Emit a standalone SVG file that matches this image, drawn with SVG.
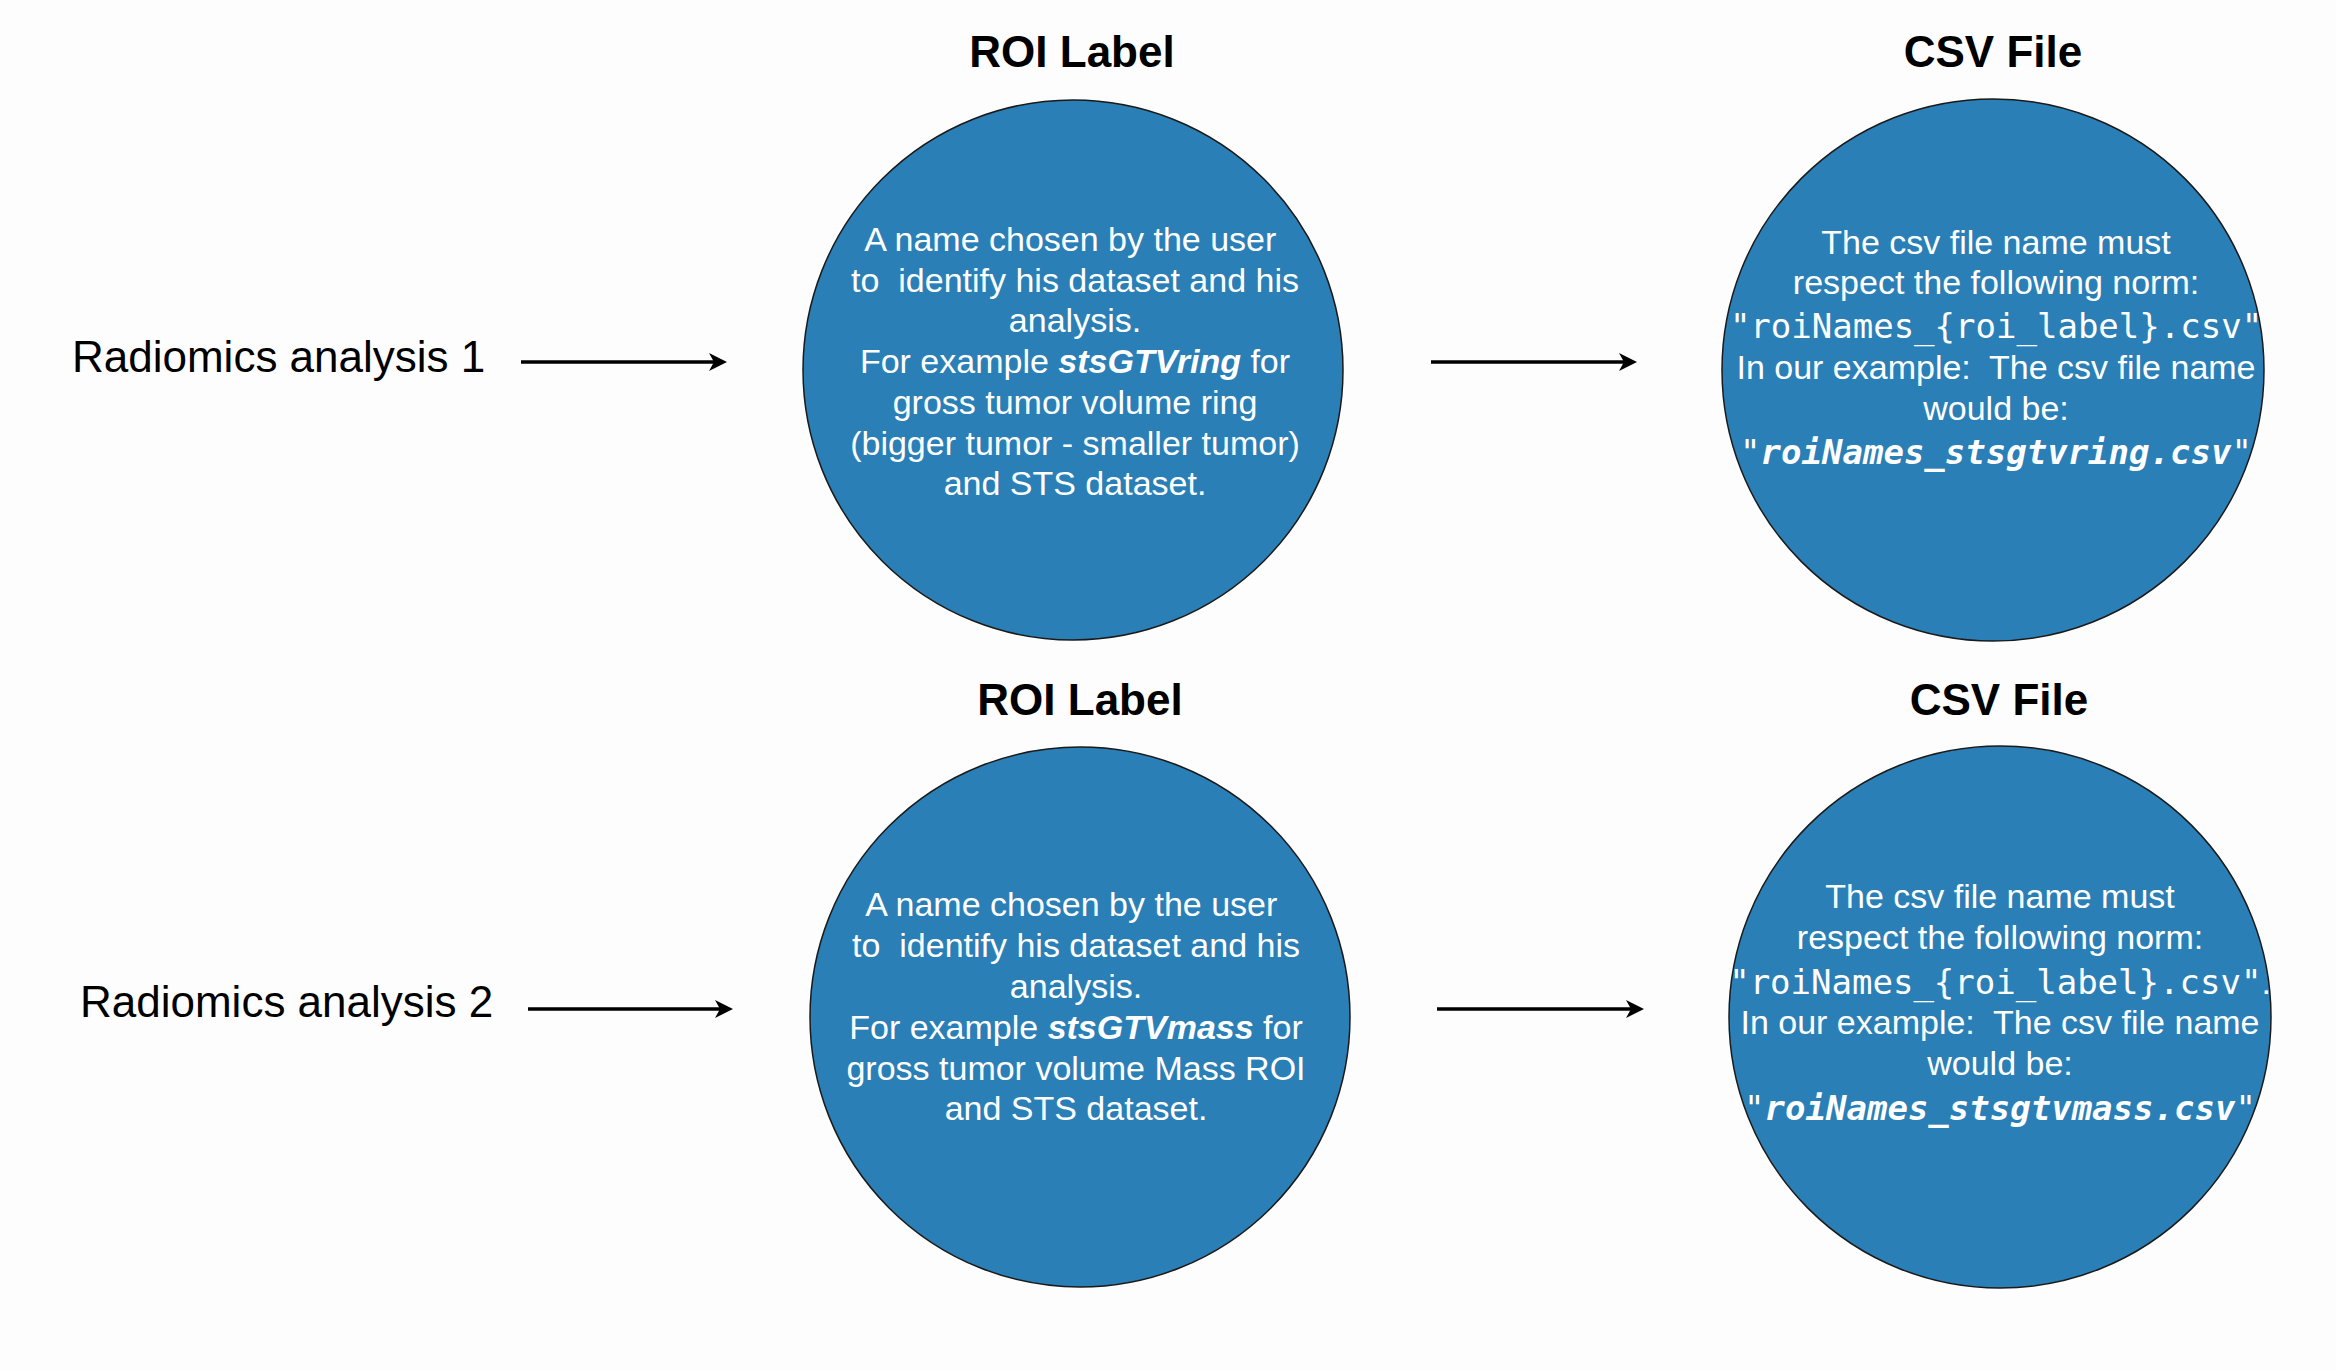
<svg xmlns="http://www.w3.org/2000/svg" width="2336" height="1371" viewBox="0 0 2336 1371">
  <style>
    .bg { fill: #fdfdfd; }
    .node { fill: #2a7fb7; stroke: #1a1a1a; stroke-width: 1.5; }
    .title { font-family: "Liberation Sans", Arial, sans-serif; font-size: 44px; font-weight: bold; fill: #000; text-anchor: middle; }
    .side { font-family: "Liberation Sans", Arial, sans-serif; font-size: 44px; fill: #000; }
    .body { font-family: "Liberation Sans", Arial, sans-serif; font-size: 34px; fill: #fff; text-anchor: middle; white-space: pre; }
    .bi { font-weight: bold; font-style: italic; }
    .mono { font-family: "DejaVu Sans Mono", "Liberation Mono", monospace; }
    .monobi { font-family: "DejaVu Sans Mono", "Liberation Mono", monospace; font-weight: bold; font-style: italic; }
    .edge { stroke: #000; stroke-width: 3.5; fill: none; }
  </style>
  <defs>
    <marker id="arrow" markerUnits="userSpaceOnUse" markerWidth="20" markerHeight="20" refX="12" refY="9" orient="auto">
      <path d="M0,0 L18,9 L0,18 L5,9 Z" fill="#000"/>
    </marker>
  </defs>
  <rect class="bg" x="0" y="0" width="2336" height="1371"/>

  <g id="label-analysis1">
    <text class="side" x="72" y="372">Radiomics analysis 1</text>
  </g>
  <g id="label-analysis2">
    <text class="side" x="80" y="1017">Radiomics analysis 2</text>
  </g>

  <g id="roi1">
    <text class="title" x="1072" y="67">ROI Label</text>
    <circle class="node" cx="1073" cy="370" r="270"/>
    <text class="body" x="1075" y="251">A name chosen by the user </text>
    <text class="body" x="1075" y="292">to  identify his dataset and his</text>
    <text class="body" x="1075" y="332">analysis.</text>
    <text class="body" x="1075" y="373">For example <tspan class="bi">stsGTVring</tspan> for</text>
    <text class="body" x="1075" y="414">gross tumor volume ring</text>
    <text class="body" x="1075" y="455">(bigger tumor - smaller tumor)</text>
    <text class="body" x="1075" y="495">and STS dataset.</text>
  </g>

  <g id="csv1">
    <text class="title" x="1993" y="67">CSV File</text>
    <circle class="node" cx="1993" cy="370" r="271"/>
    <text class="body" x="1996" y="254">The csv file name must</text>
    <text class="body" x="1996" y="294">respect the following norm:</text>
    <text class="body mono" x="1996" y="338">"roiNames_{roi_label}.csv"</text>
    <text class="body" x="1996" y="379">In our example:  The csv file name</text>
    <text class="body" x="1996" y="420">would be:</text>
    <text class="body" x="1996" y="464"><tspan class="mono">"</tspan><tspan class="monobi">roiNames_stsgtvring.csv</tspan><tspan class="mono">"</tspan></text>
  </g>

  <g id="roi2">
    <text class="title" x="1080" y="715">ROI Label</text>
    <circle class="node" cx="1080" cy="1017" r="270"/>
    <text class="body" x="1076" y="916">A name chosen by the user </text>
    <text class="body" x="1076" y="957">to  identify his dataset and his</text>
    <text class="body" x="1076" y="998">analysis.</text>
    <text class="body" x="1076" y="1039">For example <tspan class="bi">stsGTVmass</tspan> for</text>
    <text class="body" x="1076" y="1080">gross tumor volume Mass ROI</text>
    <text class="body" x="1076" y="1120">and STS dataset.</text>
  </g>

  <g id="csv2">
    <text class="title" x="1999" y="715">CSV File</text>
    <circle class="node" cx="2000" cy="1017" r="271"/>
    <text class="body" x="2000" y="908">The csv file name must</text>
    <text class="body" x="2000" y="949">respect the following norm:</text>
    <text class="body" x="2000" y="994"><tspan class="mono">"roiNames_{roi_label}.csv"</tspan>.</text>
    <text class="body" x="2000" y="1034">In our example:  The csv file name</text>
    <text class="body" x="2000" y="1075">would be:</text>
    <text class="body" x="2000" y="1120"><tspan class="mono">"</tspan><tspan class="monobi">roiNames_stsgtvmass.csv</tspan><tspan class="mono">"</tspan></text>
  </g>

  <g id="connectors">
    <line class="edge" x1="521" y1="362" x2="721" y2="362" marker-end="url(#arrow)"/>
    <line class="edge" x1="1431" y1="362" x2="1631" y2="362" marker-end="url(#arrow)"/>
    <line class="edge" x1="528" y1="1009" x2="727" y2="1009" marker-end="url(#arrow)"/>
    <line class="edge" x1="1437" y1="1009" x2="1638" y2="1009" marker-end="url(#arrow)"/>
  </g>
</svg>
